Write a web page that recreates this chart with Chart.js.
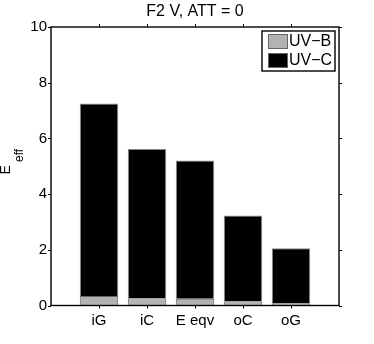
<!DOCTYPE html>
<html>
<head>
<meta charset="utf-8">
<script src="https://cdn.jsdelivr.net/npm/chart.js@4"></script>
<style>
  html, body { margin: 0; padding: 0; background: #fff; }
  #wrap { width: 374px; height: 344px; position: relative; }
</style>
</head>
<body>
<div id="wrap"><canvas id="effChart" width="374" height="344"></canvas></div>
<script>
// data
const categories = ['', 'iG', 'iC', 'E eqv', 'oC', 'oG', ''];
const uvB = [null, 0.34, 0.26, 0.24, 0.14, 0.08, null];
const uvC = [null, 6.91, 5.36, 4.97, 3.09, 1.98, null];
const yTicks = [0, 2, 4, 6, 8, 10];
const chartTitle = 'F2 V, ATT = 0';

const FONT = '"Liberation Sans", Arial, Helvetica, sans-serif';

// box, outward ticks, title, y label and legend in MATLAB style
const matlabAxes = {
    id: 'matlabAxes',
    afterDraw(chart) {
        const ctx = chart.ctx;
        const a = chart.chartArea;
        const xs = chart.scales.x, ys = chart.scales.y;
        ctx.save();
        ctx.strokeStyle = '#000';
        ctx.lineWidth = 1.4;
        ctx.strokeRect(a.left, a.top, a.right - a.left, a.bottom - a.top);

        const t = 3;
        ctx.lineWidth = 1;
        ctx.beginPath();
        for (let i = 1; i < categories.length - 1; i++) {
            const x = Math.round(xs.getPixelForValue(i)) + 0.5;
            ctx.moveTo(x, a.bottom); ctx.lineTo(x, a.bottom + t);
            ctx.moveTo(x, a.top); ctx.lineTo(x, a.top - t);
        }
        yTicks.forEach(v => {
            const y = Math.round(ys.getPixelForValue(v)) + 0.5;
            ctx.moveTo(a.left, y); ctx.lineTo(a.left - t, y);
            ctx.moveTo(a.right, y); ctx.lineTo(a.right + t, y);
        });
        ctx.stroke();

        // title
        ctx.fillStyle = '#000';
        ctx.font = '16px ' + FONT;
        ctx.textAlign = 'center';
        ctx.textBaseline = 'alphabetic';
        ctx.fillText(chartTitle, (a.left + a.right) / 2, 16);

        // y label E_eff
        ctx.save();
        ctx.translate(10, 162.5);
        ctx.rotate(-Math.PI / 2);
        ctx.textAlign = 'left';
        ctx.font = '14px ' + FONT;
        ctx.fillText('E', -12, 0);
        ctx.font = '12px ' + FONT;
        ctx.fillText('eff', 0.5, 13);
        ctx.restore();

        // legend box
        const lx = a.right - 77, ly = a.top + 4, lw = 73, lh = 40;
        ctx.fillStyle = '#fff';
        ctx.fillRect(lx, ly, lw, lh);
        ctx.lineWidth = 1.4;
        ctx.strokeStyle = '#000';
        ctx.strokeRect(lx, ly, lw, lh);
        ctx.font = '16px ' + FONT;
        ctx.textAlign = 'left';
        ctx.textBaseline = 'middle';
        chart.data.datasets.forEach((ds, i) => {
            const sy = ly + 3 + i * 19;
            ctx.fillStyle = ds.backgroundColor;
            ctx.fillRect(lx + 6, sy, 20, 15);
            ctx.lineWidth = 1;
            ctx.strokeStyle = '#666';
            ctx.strokeRect(lx + 6.5, sy + 0.5, 19, 14);
            ctx.fillStyle = '#000';
            ctx.fillText(ds.label, lx + 27, sy + 8);
        });
        ctx.restore();
    }
};

new Chart(document.getElementById('effChart'), {
    type: 'bar',
    data: {
        labels: categories,
        datasets: [
            { label: 'UV\u2212B', data: uvB, backgroundColor: '#b3b3b3', borderColor: '#666', borderWidth: 1 },
            { label: 'UV\u2212C', data: uvC, backgroundColor: '#000000', borderColor: '#888', borderWidth: 1 }
        ]
    },
    options: {
        responsive: false,
        animation: false,
        layout: { padding: { top: 27, right: 35, left: 0, bottom: 0 } },
        datasets: { bar: { categoryPercentage: 1, barPercentage: 0.8 } },
        plugins: { legend: { display: false }, title: { display: false }, tooltip: { enabled: false } },
        scales: {
            x: {
                stacked: true,
                offset: false,
                grid: { display: false, drawTicks: false },
                border: { display: false },
                ticks: { color: '#000', font: { family: FONT, size: 15 }, padding: 6, maxRotation: 0, autoSkip: false },
                afterFit: s => { s.height = 38.5; }
            },
            y: {
                stacked: true,
                min: 0, max: 10,
                grid: { display: false, drawTicks: false },
                border: { display: false },
                ticks: { stepSize: 2, color: '#000', font: { family: FONT, size: 15 }, padding: 4 },
                afterFit: s => { s.width = 51; }
            }
        }
    },
    plugins: [matlabAxes]
});
</script>
</body>
</html>
